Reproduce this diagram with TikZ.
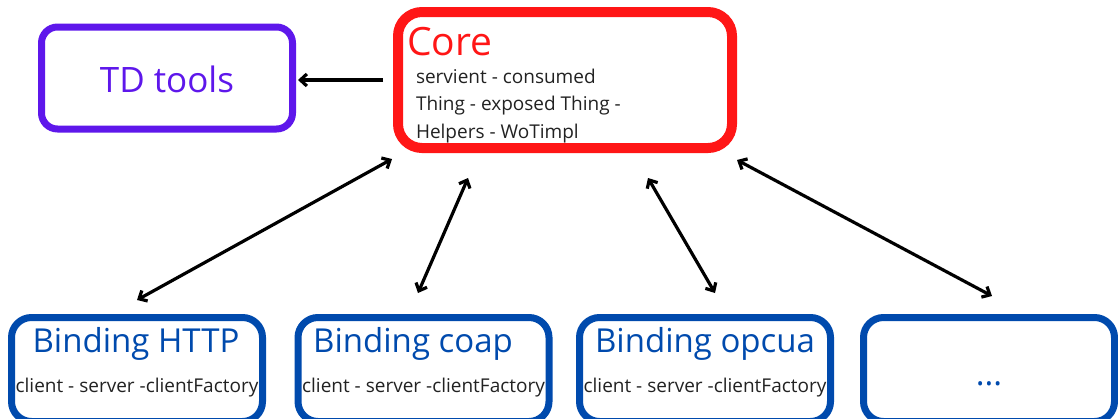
\documentclass[tikz,border=0pt]{standalone}
\usepackage{fontspec}
\setmainfont{Open Sans}
\usetikzlibrary{arrows.meta}
\definecolor{tdpurple}{HTML}{5E17EB}
\definecolor{corered}{HTML}{FF1616}
\definecolor{bindblue}{HTML}{004AAD}
\definecolor{bodygray}{HTML}{222222}
\begin{document}
\begin{tikzpicture}[x=1pt,y=-1pt,
  box/.style={draw, rectangle, inner sep=0pt, outer sep=0pt},
  tdbox/.style={box, draw=tdpurple, line width=7pt, rounded corners=16pt, minimum width=251pt, minimum height=102pt},
  corebox/.style={box, draw=corered, line width=10pt, rounded corners=24pt, minimum width=334pt, minimum height=136pt},
  bindbox/.style={box, draw=bindblue, line width=7pt, rounded corners=20pt, minimum width=251pt, minimum height=104pt},
  label/.style={inner sep=0pt, outer sep=0pt},
  bodytext/.style={label, anchor=base west, text=bodygray, font=\fontsize{19}{19}\selectfont},
  bindtitle/.style={label, anchor=base, text=bindblue, font=\fontsize{33}{33}\selectfont},
  bindsub/.style={label, anchor=base, text=bodygray, font=\fontsize{19}{19}\selectfont},
  conn/.style={line width=3.2pt, black, {Straight Barb[length=6.5pt,width=12pt]}-{Straight Barb[length=6.5pt,width=12pt]}},
  oneway/.style={line width=3.2pt, black, -{Straight Barb[length=6.5pt,width=12pt]}}
]
\useasboundingbox (0,0) rectangle (1118,418);
\clip (0,0) rectangle (1118,418);
% TD tools
\node[tdbox] (td) at (167,78) {};
\node[label, anchor=base, text=tdpurple, font=\fontsize{35}{35}\selectfont] (tdt) at (167,92) {TD tools};
% Core
\node[corebox] (core) at (565,80) {};
\node[label, anchor=base west, text=corered, font=\fontsize{39}{39}\selectfont] (coret) at (407,55) {Core};
\node[bodytext] (core1) at (416,83) {servient - consumed};
\node[bodytext] (core2) at (416,110.5) {Thing - exposed Thing -};
\node[bodytext] (core3) at (416,138) {Helpers - WoTimpl};
% Bindings
\node[bindbox] (b1) at (137,369.5) {};
\node[bindbox] (b2) at (423.5,369.5) {};
\node[bindbox] (b3) at (705,369.5) {};
\node[bindbox] (b4) at (989,369.5) {};
\node[bindtitle] (b1t) at (136,352) {Binding HTTP};
\node[bindsub] (b1s) at (137,392) {client - server -clientFactory};
\node[bindtitle] (b2t) at (413,352) {Binding coap};
\node[bindsub] (b2s) at (423.5,392) {client - server -clientFactory};
\node[bindtitle] (b3t) at (705,352) {Binding opcua};
\node[bindsub] (b3s) at (705,392) {client - server -clientFactory};
\node[bindtitle] (b4t) at (989,385) {...};
% connectors
\draw[oneway] ([shift={(-15,0)}]core.west) -- ([shift={(5.5,2)}]td.east);
\draw[conn] ([shift={(0,-17.5)}]b1.north) -- ([shift={(-6,11)}]core.south west);
\draw[conn] ([shift={(-5.5,-24.5)}]b2.north) -- ([shift={(-97,30)}]core.south);
\draw[conn] ([shift={(10,-24.5)}]b3.north) -- ([shift={(83,30)}]core.south);
\draw[conn] ([shift={(3,-21.5)}]b4.north) -- ([shift={(5,12)}]core.south east);
\end{tikzpicture}
\end{document}
